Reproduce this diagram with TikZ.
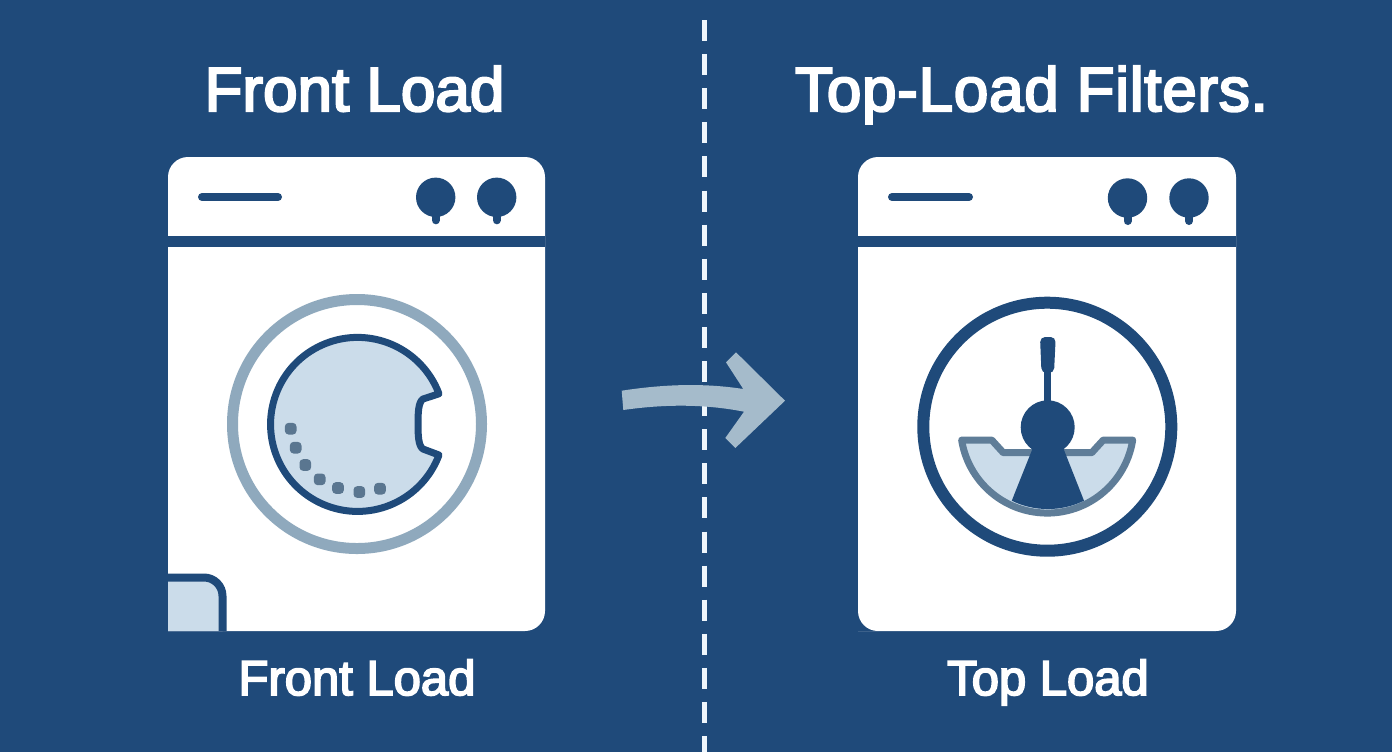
\documentclass[tikz,border=0pt]{standalone}
\usepackage{fontspec}
\setmainfont[FakeBold=3.6]{Liberation Sans}
\definecolor{navy}{HTML}{1F4A7A}
\definecolor{pale}{HTML}{CBDCEA}
\definecolor{ringgrey}{HTML}{8FA9BD}
\definecolor{steel}{HTML}{5F7D98}
\definecolor{dotgrey}{HTML}{5A7690}
\definecolor{arrowgrey}{HTML}{A5BBCB}
\definecolor{dashwhite}{HTML}{EFF6FC}
\tikzset{
  x=0.5pt,y=-0.5pt,
  titletext/.style={text=white,font=\fontsize{31}{34}\selectfont,inner sep=0pt,anchor=base},
  captiontext/.style={text=white,font=\fontsize{24.5}{28}\selectfont,inner sep=0pt,anchor=base},
  band/.style={fill=navy,draw=none},
  slot/.style={draw=navy,line width=4pt,line cap=round},
  knob/.style={fill=navy,draw=none},
  dotmark/.style={fill=dotgrey,draw=none,rounded corners=1.8pt},
}
\newcommand{\machine}[2]{% left x, right x
  \fill[white] (#1,177) arc[start angle=180,end angle=270,radius=20] -- (#2-20,157)
     arc[start angle=270,end angle=360,radius=20] -- (#2,611)
     arc[start angle=0,end angle=90,radius=20] -- (#1,631) -- cycle;
  \fill[band] (#1,236) rectangle (#2,247);
}
\newcommand{\knobat}[2]{%
  \fill[knob] (#1,#2) circle[radius=19.7];
  \draw[navy,line width=4pt,line cap=round] (#1,#2+10) -- (#1,#2+23);
}
\begin{document}
\begin{tikzpicture}
\useasboundingbox (0,0) rectangle (1392,752);
\fill[navy] (0,0) rectangle (1392,752);
% divider
\draw[dashwhite,line width=2.5pt,dash pattern=on 10.5pt off 6.55pt] (704,20) -- (704,752);
% titles
\node[titletext] (t1) at (354.5,111) {Front Load};
\node[titletext] (t2) at (1031.5,111) {\addfontfeature{LetterSpace=1.2}Top-Load Filters.};
\node[captiontext] (c1) at (357,695) {Front Load};
\node[captiontext] (c2) at (1048,695) {Top Load};
% left machine
\machine{168}{545}
\draw[slot] (202,197) -- (278,197);
\knobat{435.7}{197.3}
\knobat{496.7}{197.3}
\fill[pale] (168,577.5) -- (204,577.5) arc[start angle=270,end angle=360,radius=18.5] -- (222.5,631) -- (168,631) -- cycle;
\draw[navy,line width=4pt] (168,577.5) -- (204,577.5) arc[start angle=270,end angle=360,radius=18.5] -- (222.5,631);
\draw[ringgrey,line width=5.5pt] (357,424) circle[radius=124.5];
\draw[navy,fill=pale,line width=3.5pt,line join=round]
  (439,455) arc[start angle=20.6,end angle=339.4,radius=87]
  -- (423,399) .. controls (418.5,402) and (418,412) .. (418,424) .. controls (418,436) and (418.5,446) .. (423,449) -- cycle;
\foreach \dx/\dy in {290.7/428.7,295.7/447.7,305.3/465,319.7/479.3,338/488,359.3/492,380/488.7}
  \fill[dotmark] (\dx-5.8,\dy-5.8) rectangle (\dx+5.8,\dy+5.8);
% right machine
\machine{858}{1236}
\fill[navy] (858,611) rectangle (878,631);
\fill[white] (878,611) circle[radius=20];
\draw[slot] (892,197) -- (969,197);
\knobat{1127.5}{198}
\knobat{1189}{198}
\draw[navy,line width=6pt] (1047.3,426.7) circle[radius=124];
\draw[steel,fill=pale,line width=3.5pt,line join=round] (961.7,440) -- (991.7,440) -- (1003.3,452.7) -- (1091.7,452.7) -- (1103.3,440) -- (1132.7,440)
  arc[start angle=9,end angle=171,radius=86.6] -- cycle;
\fill[navy] (1033.3,446.7) -- (1062.7,446.7) -- (1084,500.7)
  arc[start angle=64,end angle=116,radius=82.4] -- cycle;
\fill[navy] (1047.7,427.3) circle[radius=27];
\draw[navy,line width=3.5pt] (1047.5,405) -- (1047.5,365);
\fill[navy,rounded corners=2.5pt] (1040,337) -- (1055.7,337) -- (1054,373) -- (1041.5,373) -- cycle;
% arrow
\fill[arrowgrey,line join=round] (621.7,390.7) .. controls (665,384) and (705,383) .. (743.3,389)
  -- (726,362.3) -- (736,352.3) -- (785,400.7) -- (735.3,448) -- (725.3,438) -- (744,411.7)
  .. controls (705,404) and (665,404) .. (623.3,410) -- cycle;
\end{tikzpicture}
\end{document}
